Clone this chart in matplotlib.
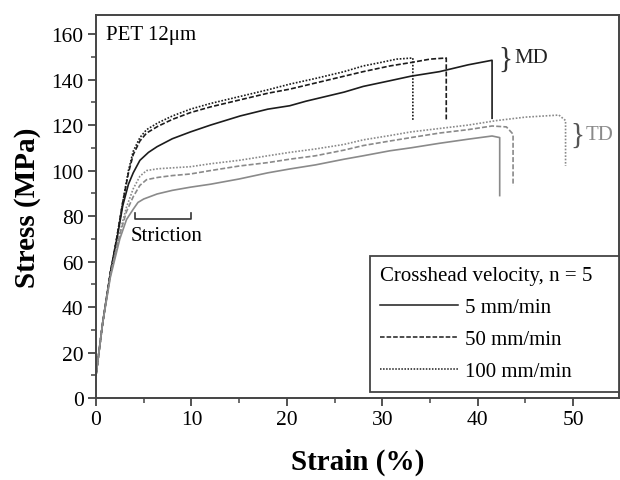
import matplotlib
matplotlib.use("Agg")
import matplotlib.pyplot as plt
from matplotlib.ticker import MultipleLocator

plt.rcParams['font.family'] = ['Liberation Serif', 'DejaVu Serif']

# ---- data (strain %, stress MPa) ----
md5_x = [0, 0.7, 1.5, 2.2, 2.8, 3.4, 3.9, 4.6, 5.5, 6.4, 8, 9.9, 12, 15.1, 18, 20.3, 22, 24.5, 26, 28, 30.8, 33, 36, 39, 41.5, 41.5]
md5_y = [10, 33, 55, 70, 84.5, 94, 99, 104.5, 108, 110.5, 114, 117, 120, 124, 127, 128.5, 130.5, 133, 134.5, 137, 139.5, 141.5, 143.5, 146.5, 148.5, 123]

md50_x = [0, 0.7, 1.5, 2.2, 2.8, 3.4, 3.9, 4.6, 5.3, 6.5, 8, 9.9, 12, 15, 18, 20.3, 23, 26, 28, 30.8, 33, 35, 36.7, 36.7]
md50_y = [10, 33, 55, 71, 86, 99, 107, 113, 116.5, 119.5, 122.5, 125.5, 128, 131, 134, 135.8, 138.5, 141.5, 143.5, 146, 147.5, 149, 149.5, 122.5]

md100_x = [0, 0.7, 1.5, 2.2, 2.8, 3.4, 3.9, 4.6, 5.3, 6.5, 8, 9.9, 12, 15, 18, 20.3, 23, 26, 28, 29.8, 31.5, 33.2, 33.2]
md100_y = [10, 33, 55, 71, 86, 100, 108.5, 114.5, 118, 121, 124, 127, 129.5, 132.5, 135.5, 138, 140.5, 143.5, 146, 147.5, 149, 149.5, 122]

td5_x = [0, 0.7, 1.5, 2.5, 3.2, 3.9, 4.4, 5.0, 6.4, 8, 9.9, 12, 15, 18, 20.3, 23, 26, 28, 30.8, 33, 36, 39, 41.5, 42.3, 42.3]
td5_y = [10, 33, 53, 70, 78.5, 83, 86, 87.5, 89.7, 91.3, 92.7, 94, 96.3, 99, 100.7, 102.5, 105, 106.5, 108.7, 110, 112, 113.8, 115.2, 114.5, 89]

td50_x = [0, 0.7, 1.5, 2.5, 3.2, 3.9, 4.6, 5.3, 6.5, 8, 9.9, 12, 15, 18, 20.3, 23, 26, 28, 30.8, 33, 36, 39, 41.5, 43, 43.7, 43.7]
td50_y = [10, 33, 54, 72, 82, 88.5, 93.5, 96, 97, 97.8, 98.5, 100, 102, 103.5, 105, 106.5, 109, 111, 113, 114.5, 116.5, 118, 119.6, 119.2, 116, 93.3]

td100_x = [0, 0.7, 1.5, 2.5, 3.2, 3.9, 4.6, 5.3, 6.5, 8, 9.9, 12, 15, 18, 20.3, 23, 26, 28, 30.8, 33, 36, 39, 42, 45, 48.5, 49.2, 49.2]
td100_y = [10, 33, 54, 73, 84, 92, 97.5, 100, 100.8, 101.2, 101.7, 103, 104.5, 106.5, 108, 109.5, 111.5, 113.5, 115.4, 117, 118.5, 120, 122, 123.5, 124.4, 122, 102]

series_labels = ['5 mm/min', '50 mm/min', '100 mm/min']

# ---- styles ----
MD_COL = '#1c1c1c'
TD_COL = '#8a8a8a'
styles = ['-', (0, (3, 1.3)), (0, (1, 1))]

fig = plt.figure(figsize=(6.2, 4.81), dpi=100)
ax = fig.add_axes([96/620, 1-399/481, 523/620, 383/481])

md = [(md5_x, md5_y), (md50_x, md50_y), (md100_x, md100_y)]
td = [(td5_x, td5_y), (td50_x, td50_y), (td100_x, td100_y)]
for (x, y), ls, lab in zip(md, styles, series_labels):
    ax.plot(x, y, color=MD_COL, ls=ls, lw=1.2, label=lab)
for (x, y), ls in zip(td, styles):
    ax.plot(x, y, color=TD_COL, ls=ls, lw=1.2)

ax.set_xlim(0, 54.8)
ax.set_ylim(0, 168.4)
ax.xaxis.set_major_locator(MultipleLocator(10))
ax.xaxis.set_minor_locator(MultipleLocator(5))
ax.yaxis.set_major_locator(MultipleLocator(20))
ax.yaxis.set_minor_locator(MultipleLocator(10))
ax.tick_params(which='major', direction='out', length=6, width=1.3, color='#444444', labelsize=15.5, pad=3)
ax.tick_params(which='minor', direction='out', length=3.5, width=1.1, color='#444444')
for s in ax.spines.values():
    s.set_color('#444444')
    s.set_linewidth(1.4)

ax.set_xlabel('Strain (%)', fontsize=21, fontweight='bold', labelpad=13)
ax.set_ylabel('Stress (MPa)', fontsize=21, fontweight='bold', labelpad=7)

# annotations
ax.text(1.0, 160, 'PET 12\u03bcm', fontsize=15, va='center', ha='left')
ax.plot([4.1, 4.1, 10.0, 10.0], [81.5, 78.7, 78.7, 81.5], color='#333333', lw=1.2)
ax.text(3.6, 71.5, 'Striction', fontsize=15, va='center', ha='left')

ax.text(42.9, 149.3, '}', fontsize=21, va='center', ha='center', color='#333333')
ax.text(43.8, 149.5, 'MD', fontsize=15, va='center', ha='left', color='#222222')
ax.text(50.4, 115.8, '}', fontsize=21, va='center', ha='center', color='#555555')
ax.text(51.3, 116, 'TD', fontsize=15, va='center', ha='left', color=TD_COL)

leg_handles = [plt.Line2D([], [], color=MD_COL, ls=ls, lw=1.1) for ls in styles]
leg = ax.legend(leg_handles, series_labels, title='Crosshead velocity, n = 5',
                loc='lower left', bbox_to_anchor=(0.524, 0.016, 0.476, 0.36), mode='expand',
                fontsize=15, title_fontsize=15, alignment='left',
                frameon=True, fancybox=False, edgecolor='#444444', framealpha=1,
                handlelength=3.7, handletextpad=0.35, labelspacing=0.6,
                borderpad=0.5, borderaxespad=0)
leg.get_frame().set_linewidth(1.3)

fig.savefig('out.png', dpi=100)
